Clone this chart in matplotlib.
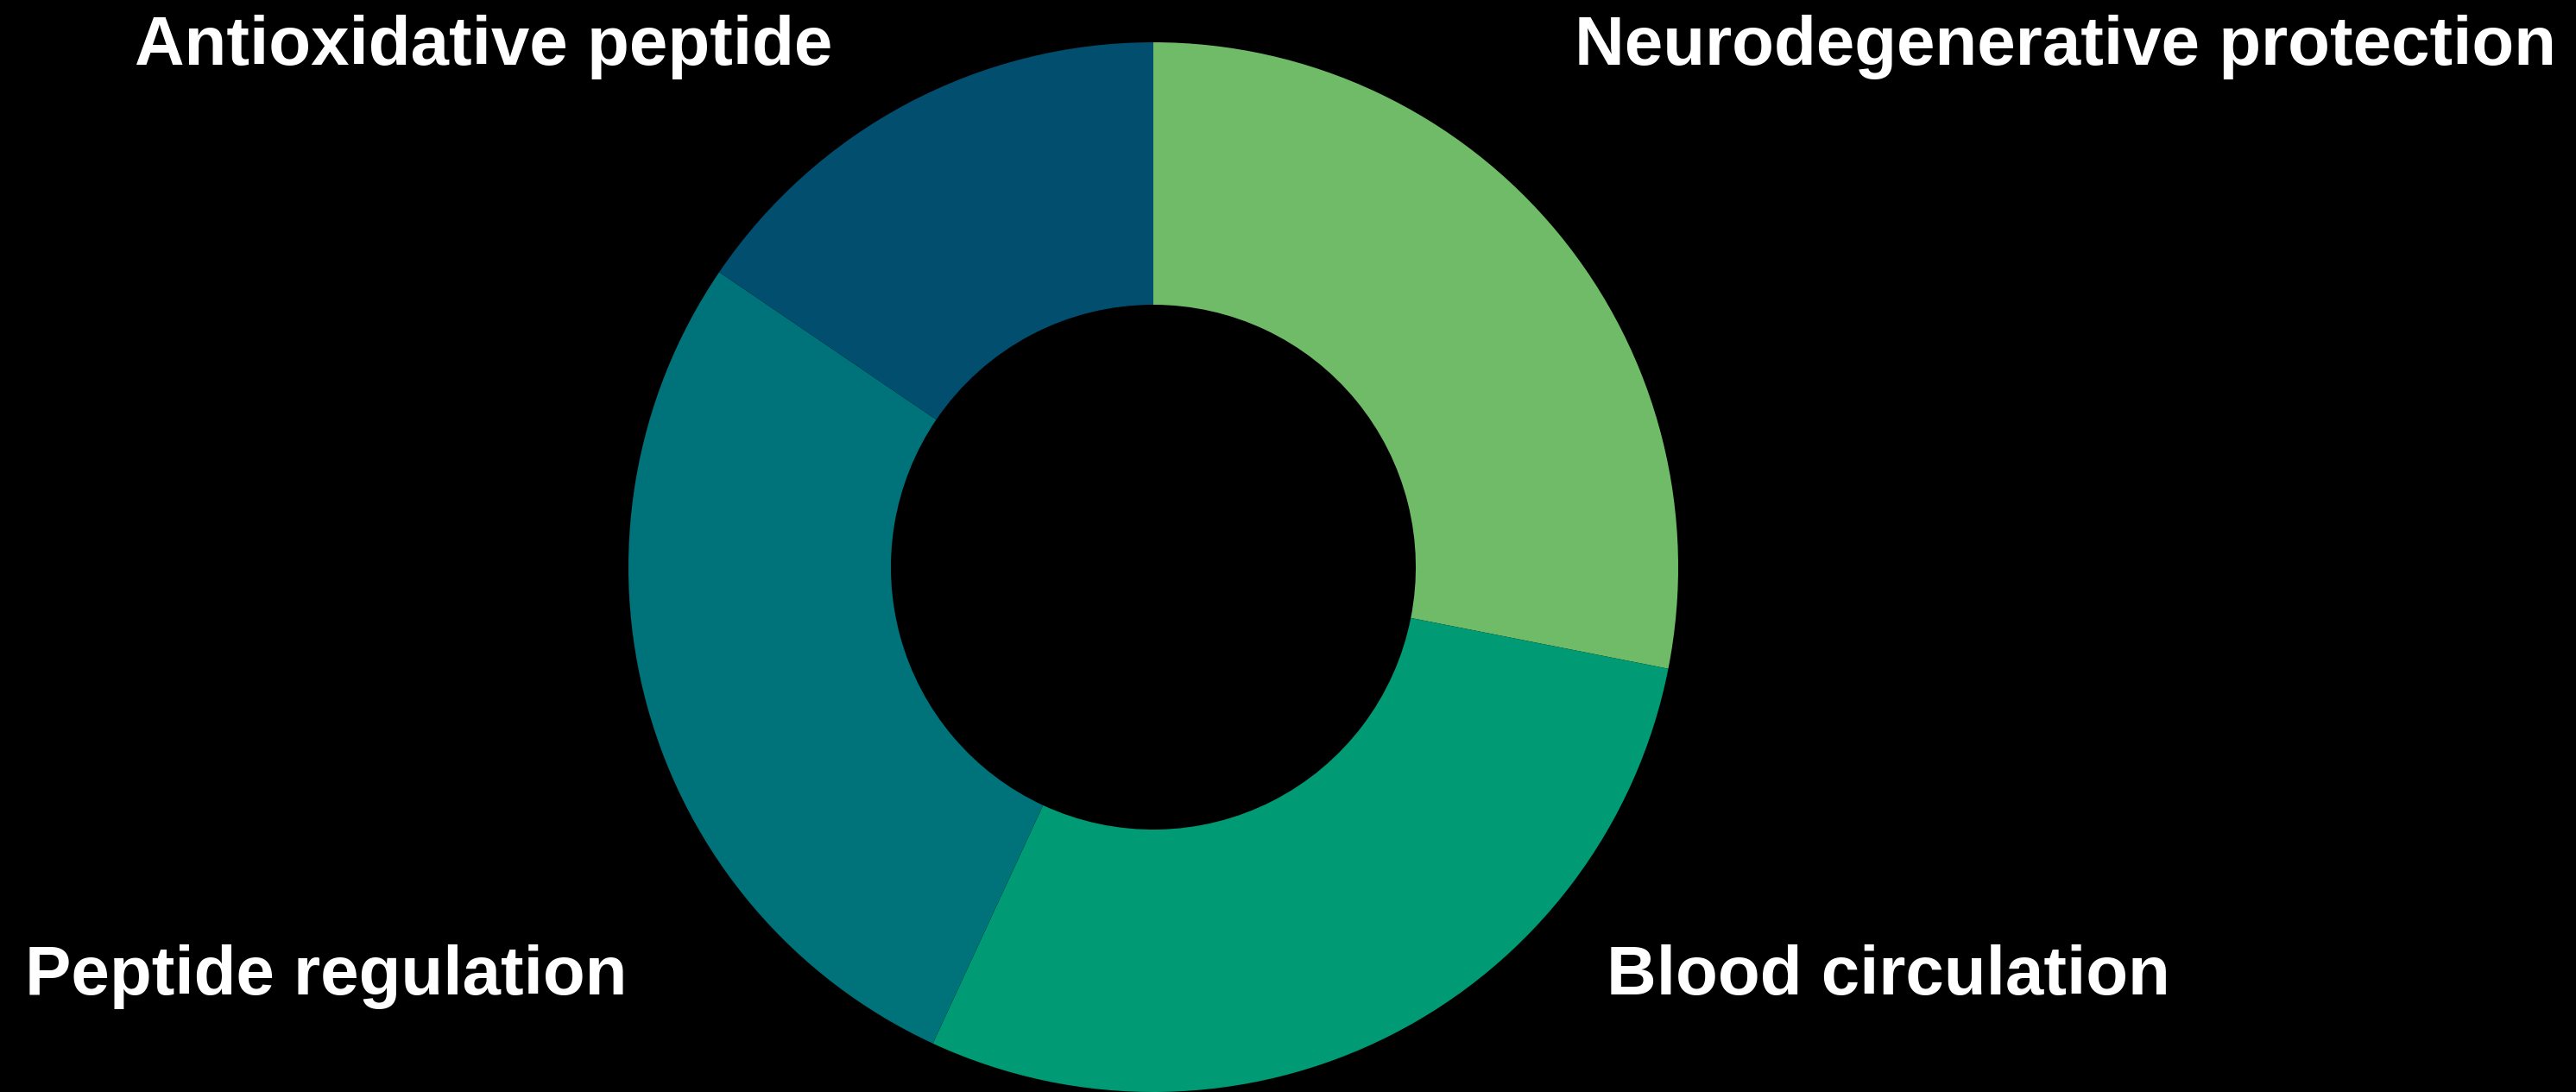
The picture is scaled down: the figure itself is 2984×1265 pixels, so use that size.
import matplotlib
matplotlib.use("Agg")
import matplotlib.pyplot as plt

# slice values (percent), clockwise from 12 o'clock
labels = ["Neurodegenerative protection", "Blood circulation",
          "Peptide regulation", "Antioxidative peptide"]
values = [28.1, 28.8, 27.6, 15.5]
colors = ["#70bb67", "#009b74", "#00727a", "#024e6e"]

W, H = 2984, 1265
fig = plt.figure(figsize=(W / 100, H / 100), dpi=100, facecolor="black")

# donut centre (1336, 657) px, outer radius 608 px
cx, cy, R = 1336, 657, 608
ax = fig.add_axes([(cx - R) / W, 1 - (cy + R) / H, 2 * R / W, 2 * R / H])
ax.set_facecolor("black")
ax.pie(values, colors=colors, startangle=90, counterclock=False,
       radius=1.0, wedgeprops=dict(width=0.5, linewidth=0))
ax.set_xlim(-1, 1)
ax.set_ylim(-1, 1)
ax.set_aspect("equal")
ax.axis("off")

# label positions in pixels: (centre x, baseline y)
label_pos = [(2392, 75), (2187, 1152), (378, 1152), (560, 75)]
for lab, (x, y) in zip(labels, label_pos):
    fig.text(x / W, 1 - y / H, lab, color="white", fontsize=57.5,
             fontweight="bold", family="Liberation Sans",
             ha="center", va="baseline")

fig.savefig("out.png", dpi=100, facecolor="black")
